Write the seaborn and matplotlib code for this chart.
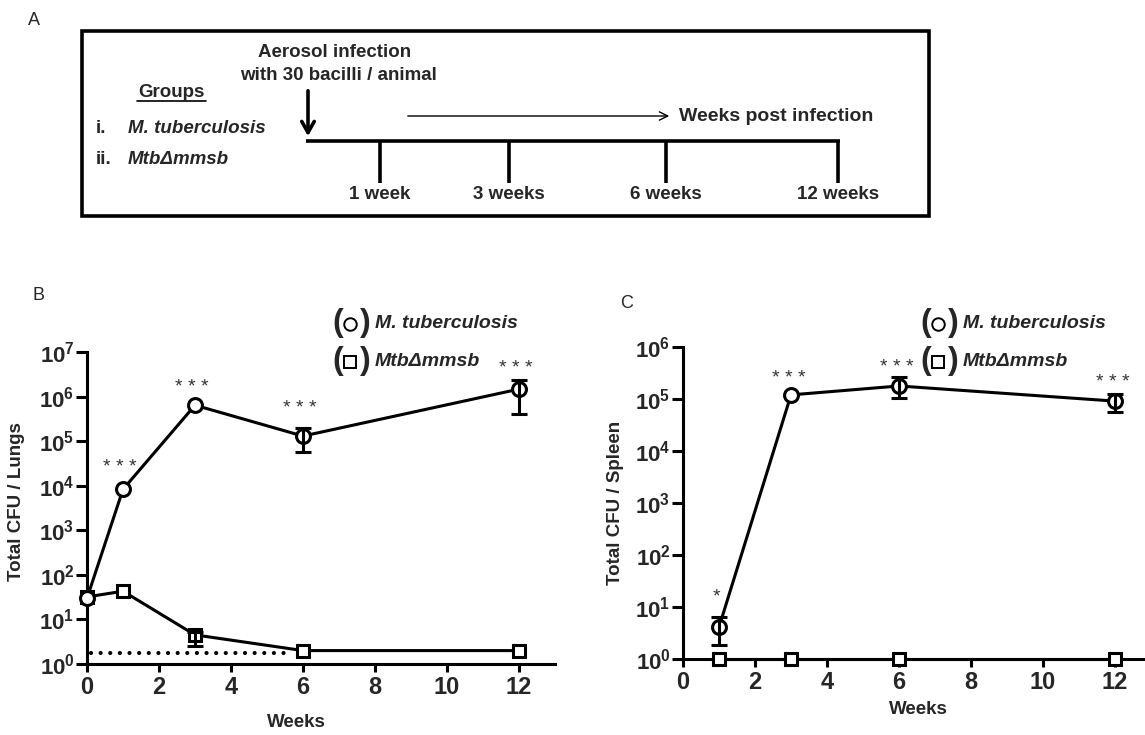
import matplotlib
matplotlib.use('Agg')
import matplotlib.pyplot as plt
import seaborn as sns
from matplotlib.ticker import NullLocator

# Panel B: lungs
weeks_lung = [0, 1, 3, 6, 12]
mtb_lung = [30, 8300, 640000, 130000, 1470000]
mtb_lung_lo = [30, 8300, 640000, 57000, 400000]
mtb_lung_hi = [30, 8300, 640000, 195000, 2400000]
mmsb_lung = [32, 43, 4.5, 2.0, 2.0]
mmsb_lung_lo = [32, 43, 2.5, 2.0, 2.0]
mmsb_lung_hi = [32, 43, 5.2, 2.0, 2.0]
lung_star_weeks = [1, 3, 6, 12]
lung_stars = ['* * *', '* * *', '* * *', '* * *']
lung_star_y = [2.6e4, 1.6e6, 5.5e5, 4.2e6]
detection_limit = 1.8
detection_weeks = [0.1, 5.6]

# Panel C: spleen
weeks_spleen = [1, 3, 6, 12]
mtb_spleen = [4.1, 120000, 178000, 91000]
mtb_spleen_lo = [1.9, 120000, 105000, 56000]
mtb_spleen_hi = [6.4, 120000, 260000, 125000]
mmsb_spleen = [1, 1, 1, 1]
spleen_star_weeks = [1, 3, 6, 12]
spleen_stars = ['*', '* * *', '* * *', '* * *']
spleen_star_y = [15.6, 2.5e5, 4.0e5, 2.1e5]

# Panel A: timeline
timeline_labels = ['1 week', '3 weeks', '6 weeks', '12 weeks']
timeline_x = [380, 509, 666, 838]
group_labels = ['M. tuberculosis', 'MtbΔmmsb']
group_numbers = ['i.', 'ii.']

sns.set_style('ticks')
plt.rcParams['font.family'] = ['Liberation Sans', 'DejaVu Sans']
plt.rcParams.update({
    'mathtext.fontset': 'custom',
    'mathtext.rm': 'Liberation Sans:bold',
    'mathtext.bf': 'Liberation Sans:bold',
    'mathtext.it': 'Liberation Sans:italic:bold',
})

W, H = 1145, 735
fig = plt.figure(figsize=(W / 100, H / 100), dpi=100)


def frac(l, t, r, b):
    return [l / W, 1 - b / H, (r - l) / W, (b - t) / H]


ax_b = fig.add_axes(frac(87, 352, 555, 664))
ax_c = fig.add_axes(frac(683, 347, 1151, 659))
ov = fig.add_axes([0, 0, 1, 1])
ov.set_xlim(0, W)
ov.set_ylim(H, 0)
ov.axis('off')

LW = 2.2


def draw_series(ax, x, y, lo, hi, marker, ms):
    sns.lineplot(x=x, y=y, ax=ax, color='black', marker=marker, markersize=ms,
                 markerfacecolor='white', markeredgecolor='black',
                 markeredgewidth=LW, linewidth=LW, clip_on=False, zorder=3)
    xs, ys, lows, highs = [], [], [], []
    for xi, yi, l, h in zip(x, y, lo, hi):
        if h > yi * 1.02 or l < yi * 0.98:
            xs.append(xi); ys.append(yi); lows.append(yi - l); highs.append(h - yi)
    if xs:
        ax.errorbar(xs, ys, yerr=[lows, highs], fmt='none', ecolor='black',
                    elinewidth=LW, capsize=6, capthick=LW, zorder=4, clip_on=False)


def style_axis(ax, top_exp, ylabel, ylab_x, ylab_y, xlab_x, xlab_y):
    ax.set_yscale('log')
    ax.set_ylim(1, 10 ** top_exp)
    ax.set_xlim(0, 13)
    ax.set_xticks(range(0, 13, 2))
    ax.set_xticklabels([str(v) for v in range(0, 13, 2)], fontsize=17, fontweight='bold')
    ax.set_yticks([10 ** k for k in range(top_exp + 1)])
    ax.set_yticklabels([rf'$10^{{{k}}}$' for k in range(top_exp + 1)], fontsize=16)
    ax.yaxis.set_minor_locator(NullLocator())
    for s in ['top', 'right']:
        ax.spines[s].set_visible(False)
    for s in ['left', 'bottom']:
        ax.spines[s].set_linewidth(LW)
        ax.spines[s].set_color('black')
    ax.tick_params(axis='y', length=8, width=LW, pad=1, color='black')
    ax.tick_params(axis='x', length=5.5, width=LW, pad=3, color='black')
    ax.set_ylabel(ylabel, fontsize=13.5, fontweight='bold')
    ax.yaxis.label.set_va('center')
    ax.yaxis.set_label_coords(ylab_x, ylab_y)
    ax.set_xlabel('Weeks', fontsize=13.5, fontweight='bold')
    ax.xaxis.label.set_va('center')
    ax.xaxis.set_label_coords(xlab_x, xlab_y)
    ax.set_facecolor('none')


# Panel B
draw_series(ax_b, weeks_lung, mmsb_lung, mmsb_lung_lo, mmsb_lung_hi, 's', 9)
draw_series(ax_b, weeks_lung, mtb_lung, mtb_lung_lo, mtb_lung_hi, 'o', 10)
ax_b.plot(detection_weeks, [detection_limit] * 2, color='black', lw=3,
          linestyle=(0, (0.01, 2.3)), dash_capstyle='round', zorder=2)
for wk, s, yv in zip(lung_star_weeks, lung_stars, lung_star_y):
    ax_b.text(wk - 0.1, yv, s, ha='center', va='center', fontsize=14, color='#333333')
style_axis(ax_b, 7, 'Total CFU / Lungs', -0.15, 0.52, 0.447, -0.189)

# Panel C
draw_series(ax_c, weeks_spleen, mmsb_spleen, mmsb_spleen, mmsb_spleen, 's', 9)
draw_series(ax_c, weeks_spleen, mtb_spleen, mtb_spleen_lo, mtb_spleen_hi, 'o', 10)
for wk, s, yv in zip(spleen_star_weeks, spleen_stars, spleen_star_y):
    ax_c.text(wk - 0.06, yv, s, ha='center', va='center', fontsize=14, color='#333333')
style_axis(ax_c, 6, 'Total CFU / Spleen', -0.145, 0.5, 0.502, -0.163)


# legends
def draw_key(x0, y0):
    for dy, mk, lab in [(0, 'o', group_labels[0]), (38, 's', group_labels[1])]:
        y = y0 + dy
        ov.text(x0, y, '(', fontsize=23, fontweight='bold', ha='left', va='center')
        ov.plot([x0 + 18], [y + 1], marker=mk, ms=9,
                mfc='none', mec='black', mew=1.4)
        ov.text(x0 + 28, y, ')', fontsize=23, fontweight='bold', ha='left', va='center')
        ov.text(x0 + 43, y, lab, fontsize=14, fontweight='bold', style='italic',
                ha='left', va='center')


draw_key(332, 323)
draw_key(920, 323)

# panel letters
ov.text(34, 20, 'A', fontsize=13, ha='center', va='center')
ov.text(39, 295, 'B', fontsize=13, ha='center', va='center')
ov.text(627, 303, 'C', fontsize=13, ha='center', va='center')

# Panel A schematic
ov.add_patch(plt.Rectangle((82, 31), 929 - 82, 216 - 31, fill=False, lw=2.6, ec='black'))
ov.text(335, 52, 'Aerosol infection', fontsize=13.5, fontweight='bold', ha='center', va='center')
ov.text(338, 75, 'with 30 bacilli / animal', fontsize=13.5, fontweight='bold', ha='center', va='center')
ov.text(171, 92, 'Groups', fontsize=13.5, fontweight='bold', ha='center', va='center')
ov.plot([137, 206], [101, 101], color='black', lw=1.2)
for i, (num, lab) in enumerate(zip(group_numbers, group_labels)):
    y = 128 + 31 * i
    ov.text(96, y, num, fontsize=13.5, fontweight='bold', ha='left', va='center')
    ov.text(128, y, lab, fontsize=13.5, fontweight='bold', style='italic', ha='left', va='center')
ov.annotate('', xy=(308, 139), xytext=(308, 88),
            arrowprops=dict(arrowstyle='->,head_length=0.8,head_width=0.45', lw=2.6, color='black'))
ov.plot([306, 840], [141, 141], color='black', lw=2.6, solid_capstyle='butt')
for tx, lab in zip(timeline_x, timeline_labels):
    ov.plot([tx, tx], [141, 183], color='black', lw=2.6, solid_capstyle='butt')
    ov.text(tx, 194, lab, fontsize=13.5, fontweight='bold', ha='center', va='center')
ov.annotate('', xy=(672, 116), xytext=(405, 116),
            arrowprops=dict(arrowstyle='->,head_length=0.6,head_width=0.3', lw=1.0, color='black'))
ov.text(679, 116, 'Weeks post infection', fontsize=14, fontweight='bold', ha='left', va='center')

fig.savefig('out.png', dpi=100)
